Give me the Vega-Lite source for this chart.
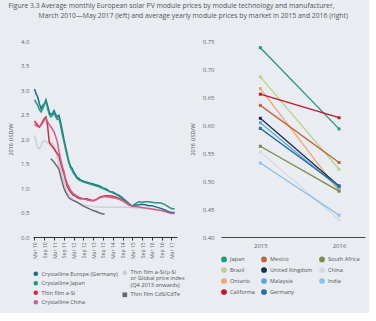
{
  "$schema": "https://vega.github.io/schema/vega-lite/v6.json",
  "background": "#e9ecf1",
  "padding": {"left": 8, "top": 3, "right": 4, "bottom": 4},
  "title": {
    "text": ["Figure 3.3   Average monthly European solar PV module prices by module technology and manufacturer,", "\u200b\u00a0\u00a0\u00a0\u00a0\u00a0\u00a0\u00a0\u00a0\u00a0\u00a0\u00a0\u00a0\u00a0\u00a0\u00a0\u00a0\u00a0March 2010\u2014May 2017 (left) and average yearly module prices by market in 2015 and 2016 (right)"],
    "anchor": "start",
    "fontSize": 6.8,
    "fontWeight": "normal",
    "color": "#555555",
    "lineHeight": 10,
    "offset": 18
  },
  "config": {
    "font": "Open Sans",
    "view": {"stroke": null},
    "axis": {"grid": false, "labelFontSize": 6, "labelColor": "#666666", "titleFontSize": 5.5, "titleColor": "#555555", "titleFontWeight": "normal", "labelOverlap": false, "tickCount": 30},
    "legend": {"labelFontSize": 5.6, "labelColor": "#555555", "labelFont": "Open Sans"}
  },
  "datasets": {
    "leftA": [
      {"series": "Crystalline Europe (Germany)", "date": "2010-03", "price": 3.02},
      {"series": "Crystalline Europe (Germany)", "date": "2010-04", "price": 2.92},
      {"series": "Crystalline Europe (Germany)", "date": "2010-05", "price": 2.85},
      {"series": "Crystalline Europe (Germany)", "date": "2010-06", "price": 2.72},
      {"series": "Crystalline Europe (Germany)", "date": "2010-07", "price": 2.62},
      {"series": "Crystalline Europe (Germany)", "date": "2010-08", "price": 2.68},
      {"series": "Crystalline Europe (Germany)", "date": "2010-09", "price": 2.72},
      {"series": "Crystalline Europe (Germany)", "date": "2010-10", "price": 2.80},
      {"series": "Crystalline Europe (Germany)", "date": "2010-11", "price": 2.68},
      {"series": "Crystalline Europe (Germany)", "date": "2010-12", "price": 2.55},
      {"series": "Crystalline Europe (Germany)", "date": "2011-01", "price": 2.50},
      {"series": "Crystalline Europe (Germany)", "date": "2011-02", "price": 2.52},
      {"series": "Crystalline Europe (Germany)", "date": "2011-03", "price": 2.58},
      {"series": "Crystalline Europe (Germany)", "date": "2011-04", "price": 2.50},
      {"series": "Crystalline Europe (Germany)", "date": "2011-05", "price": 2.45},
      {"series": "Crystalline Europe (Germany)", "date": "2011-06", "price": 2.48},
      {"series": "Crystalline Europe (Germany)", "date": "2011-07", "price": 2.35},
      {"series": "Crystalline Europe (Germany)", "date": "2011-08", "price": 2.18},
      {"series": "Crystalline Europe (Germany)", "date": "2011-09", "price": 2.00},
      {"series": "Crystalline Europe (Germany)", "date": "2011-10", "price": 1.85},
      {"series": "Crystalline Europe (Germany)", "date": "2011-11", "price": 1.70},
      {"series": "Crystalline Europe (Germany)", "date": "2011-12", "price": 1.55},
      {"series": "Crystalline Europe (Germany)", "date": "2012-01", "price": 1.45},
      {"series": "Crystalline Europe (Germany)", "date": "2012-02", "price": 1.40},
      {"series": "Crystalline Europe (Germany)", "date": "2012-03", "price": 1.33},
      {"series": "Crystalline Europe (Germany)", "date": "2012-04", "price": 1.28},
      {"series": "Crystalline Europe (Germany)", "date": "2012-05", "price": 1.22},
      {"series": "Crystalline Europe (Germany)", "date": "2012-06", "price": 1.20},
      {"series": "Crystalline Europe (Germany)", "date": "2012-07", "price": 1.17},
      {"series": "Crystalline Europe (Germany)", "date": "2012-09", "price": 1.14},
      {"series": "Crystalline Europe (Germany)", "date": "2012-11", "price": 1.12},
      {"series": "Crystalline Europe (Germany)", "date": "2013-01", "price": 1.10},
      {"series": "Crystalline Europe (Germany)", "date": "2013-03", "price": 1.08},
      {"series": "Crystalline Europe (Germany)", "date": "2013-05", "price": 1.06},
      {"series": "Crystalline Europe (Germany)", "date": "2013-07", "price": 1.04},
      {"series": "Crystalline Europe (Germany)", "date": "2013-09", "price": 1.00},
      {"series": "Crystalline Europe (Germany)", "date": "2013-11", "price": 0.98},
      {"series": "Crystalline Europe (Germany)", "date": "2014-01", "price": 0.93},
      {"series": "Crystalline Europe (Germany)", "date": "2014-03", "price": 0.92},
      {"series": "Crystalline Europe (Germany)", "date": "2014-05", "price": 0.88},
      {"series": "Crystalline Europe (Germany)", "date": "2014-07", "price": 0.85},
      {"series": "Crystalline Europe (Germany)", "date": "2014-09", "price": 0.80},
      {"series": "Crystalline Europe (Germany)", "date": "2014-11", "price": 0.74},
      {"series": "Crystalline Europe (Germany)", "date": "2015-01", "price": 0.68},
      {"series": "Crystalline Europe (Germany)", "date": "2015-03", "price": 0.63},
      {"series": "Crystalline Europe (Germany)", "date": "2015-05", "price": 0.65},
      {"series": "Crystalline Europe (Germany)", "date": "2015-07", "price": 0.66},
      {"series": "Crystalline Europe (Germany)", "date": "2015-09", "price": 0.67},
      {"series": "Crystalline Europe (Germany)", "date": "2015-11", "price": 0.66},
      {"series": "Crystalline Europe (Germany)", "date": "2016-01", "price": 0.64},
      {"series": "Crystalline Europe (Germany)", "date": "2016-03", "price": 0.64},
      {"series": "Crystalline Europe (Germany)", "date": "2016-05", "price": 0.62},
      {"series": "Crystalline Europe (Germany)", "date": "2016-07", "price": 0.60},
      {"series": "Crystalline Europe (Germany)", "date": "2016-09", "price": 0.58},
      {"series": "Crystalline Europe (Germany)", "date": "2016-11", "price": 0.55},
      {"series": "Crystalline Europe (Germany)", "date": "2017-01", "price": 0.52},
      {"series": "Crystalline Europe (Germany)", "date": "2017-03", "price": 0.50},
      {"series": "Crystalline Europe (Germany)", "date": "2017-05", "price": 0.50},
      {"series": "Crystalline Japan", "date": "2010-03", "price": 2.80},
      {"series": "Crystalline Japan", "date": "2010-04", "price": 2.74},
      {"series": "Crystalline Japan", "date": "2010-05", "price": 2.68},
      {"series": "Crystalline Japan", "date": "2010-06", "price": 2.60},
      {"series": "Crystalline Japan", "date": "2010-07", "price": 2.55},
      {"series": "Crystalline Japan", "date": "2010-08", "price": 2.62},
      {"series": "Crystalline Japan", "date": "2010-09", "price": 2.70},
      {"series": "Crystalline Japan", "date": "2010-10", "price": 2.78},
      {"series": "Crystalline Japan", "date": "2010-11", "price": 2.62},
      {"series": "Crystalline Japan", "date": "2010-12", "price": 2.50},
      {"series": "Crystalline Japan", "date": "2011-01", "price": 2.45},
      {"series": "Crystalline Japan", "date": "2011-02", "price": 2.48},
      {"series": "Crystalline Japan", "date": "2011-03", "price": 2.55},
      {"series": "Crystalline Japan", "date": "2011-04", "price": 2.45},
      {"series": "Crystalline Japan", "date": "2011-05", "price": 2.40},
      {"series": "Crystalline Japan", "date": "2011-06", "price": 2.42},
      {"series": "Crystalline Japan", "date": "2011-07", "price": 2.28},
      {"series": "Crystalline Japan", "date": "2011-08", "price": 2.10},
      {"series": "Crystalline Japan", "date": "2011-09", "price": 1.95},
      {"series": "Crystalline Japan", "date": "2011-10", "price": 1.80},
      {"series": "Crystalline Japan", "date": "2011-11", "price": 1.65},
      {"series": "Crystalline Japan", "date": "2011-12", "price": 1.52},
      {"series": "Crystalline Japan", "date": "2012-01", "price": 1.42},
      {"series": "Crystalline Japan", "date": "2012-02", "price": 1.36},
      {"series": "Crystalline Japan", "date": "2012-03", "price": 1.30},
      {"series": "Crystalline Japan", "date": "2012-04", "price": 1.25},
      {"series": "Crystalline Japan", "date": "2012-05", "price": 1.20},
      {"series": "Crystalline Japan", "date": "2012-06", "price": 1.17},
      {"series": "Crystalline Japan", "date": "2012-07", "price": 1.15},
      {"series": "Crystalline Japan", "date": "2012-09", "price": 1.12},
      {"series": "Crystalline Japan", "date": "2012-11", "price": 1.10},
      {"series": "Crystalline Japan", "date": "2013-01", "price": 1.08},
      {"series": "Crystalline Japan", "date": "2013-03", "price": 1.06},
      {"series": "Crystalline Japan", "date": "2013-05", "price": 1.04},
      {"series": "Crystalline Japan", "date": "2013-07", "price": 1.02},
      {"series": "Crystalline Japan", "date": "2013-09", "price": 0.99},
      {"series": "Crystalline Japan", "date": "2013-11", "price": 0.96},
      {"series": "Crystalline Japan", "date": "2014-01", "price": 0.93},
      {"series": "Crystalline Japan", "date": "2014-03", "price": 0.90},
      {"series": "Crystalline Japan", "date": "2014-05", "price": 0.87},
      {"series": "Crystalline Japan", "date": "2014-07", "price": 0.83},
      {"series": "Crystalline Japan", "date": "2014-09", "price": 0.78},
      {"series": "Crystalline Japan", "date": "2014-11", "price": 0.72},
      {"series": "Crystalline Japan", "date": "2015-01", "price": 0.66},
      {"series": "Crystalline Japan", "date": "2015-03", "price": 0.63},
      {"series": "Crystalline Japan", "date": "2015-05", "price": 0.68},
      {"series": "Crystalline Japan", "date": "2015-07", "price": 0.72},
      {"series": "Crystalline Japan", "date": "2015-09", "price": 0.71},
      {"series": "Crystalline Japan", "date": "2015-11", "price": 0.72},
      {"series": "Crystalline Japan", "date": "2016-01", "price": 0.72},
      {"series": "Crystalline Japan", "date": "2016-03", "price": 0.71},
      {"series": "Crystalline Japan", "date": "2016-05", "price": 0.70},
      {"series": "Crystalline Japan", "date": "2016-07", "price": 0.70},
      {"series": "Crystalline Japan", "date": "2016-09", "price": 0.69},
      {"series": "Crystalline Japan", "date": "2016-11", "price": 0.66},
      {"series": "Crystalline Japan", "date": "2017-01", "price": 0.62},
      {"series": "Crystalline Japan", "date": "2017-03", "price": 0.58},
      {"series": "Crystalline Japan", "date": "2017-05", "price": 0.57},
      {"series": "Thin film a-Si", "date": "2010-03", "price": 2.37},
      {"series": "Thin film a-Si", "date": "2010-04", "price": 2.32},
      {"series": "Thin film a-Si", "date": "2010-05", "price": 2.28},
      {"series": "Thin film a-Si", "date": "2010-06", "price": 2.24},
      {"series": "Thin film a-Si", "date": "2010-07", "price": 2.30},
      {"series": "Thin film a-Si", "date": "2010-08", "price": 2.36},
      {"series": "Thin film a-Si", "date": "2010-09", "price": 2.42},
      {"series": "Thin film a-Si", "date": "2010-10", "price": 2.45},
      {"series": "Thin film a-Si", "date": "2010-11", "price": 2.27},
      {"series": "Thin film a-Si", "date": "2010-12", "price": 1.94},
      {"series": "Thin film a-Si", "date": "2011-01", "price": 1.88},
      {"series": "Thin film a-Si", "date": "2011-02", "price": 1.84},
      {"series": "Thin film a-Si", "date": "2011-03", "price": 1.80},
      {"series": "Thin film a-Si", "date": "2011-04", "price": 1.75},
      {"series": "Thin film a-Si", "date": "2011-05", "price": 1.70},
      {"series": "Thin film a-Si", "date": "2011-06", "price": 1.65},
      {"series": "Thin film a-Si", "date": "2011-07", "price": 1.52},
      {"series": "Thin film a-Si", "date": "2011-08", "price": 1.40},
      {"series": "Thin film a-Si", "date": "2011-09", "price": 1.30},
      {"series": "Thin film a-Si", "date": "2011-10", "price": 1.16},
      {"series": "Thin film a-Si", "date": "2011-11", "price": 1.04},
      {"series": "Thin film a-Si", "date": "2011-12", "price": 0.97},
      {"series": "Thin film a-Si", "date": "2012-01", "price": 0.92},
      {"series": "Thin film a-Si", "date": "2012-02", "price": 0.88},
      {"series": "Thin film a-Si", "date": "2012-03", "price": 0.85},
      {"series": "Thin film a-Si", "date": "2012-04", "price": 0.84},
      {"series": "Thin film a-Si", "date": "2012-05", "price": 0.81},
      {"series": "Thin film a-Si", "date": "2012-07", "price": 0.78},
      {"series": "Thin film a-Si", "date": "2012-09", "price": 0.78},
      {"series": "Thin film a-Si", "date": "2012-11", "price": 0.78},
      {"series": "Thin film a-Si", "date": "2013-01", "price": 0.76},
      {"series": "Thin film a-Si", "date": "2013-03", "price": 0.74},
      {"series": "Thin film a-Si", "date": "2013-05", "price": 0.77},
      {"series": "Thin film a-Si", "date": "2013-07", "price": 0.81},
      {"series": "Thin film a-Si", "date": "2013-09", "price": 0.83},
      {"series": "Thin film a-Si", "date": "2013-11", "price": 0.84},
      {"series": "Thin film a-Si", "date": "2014-01", "price": 0.84},
      {"series": "Thin film a-Si", "date": "2014-03", "price": 0.83},
      {"series": "Thin film a-Si", "date": "2014-05", "price": 0.81},
      {"series": "Thin film a-Si", "date": "2014-07", "price": 0.78},
      {"series": "Thin film a-Si", "date": "2014-09", "price": 0.75},
      {"series": "Thin film a-Si", "date": "2014-11", "price": 0.70},
      {"series": "Thin film a-Si", "date": "2015-01", "price": 0.65},
      {"series": "Crystalline China", "date": "2010-03", "price": 2.30},
      {"series": "Crystalline China", "date": "2010-05", "price": 2.25},
      {"series": "Crystalline China", "date": "2010-07", "price": 2.28},
      {"series": "Crystalline China", "date": "2010-09", "price": 2.38},
      {"series": "Crystalline China", "date": "2010-10", "price": 2.42},
      {"series": "Crystalline China", "date": "2010-11", "price": 2.35},
      {"series": "Crystalline China", "date": "2010-12", "price": 2.30},
      {"series": "Crystalline China", "date": "2011-01", "price": 2.25},
      {"series": "Crystalline China", "date": "2011-03", "price": 2.15},
      {"series": "Crystalline China", "date": "2011-05", "price": 1.95},
      {"series": "Crystalline China", "date": "2011-06", "price": 1.75},
      {"series": "Crystalline China", "date": "2011-07", "price": 1.60},
      {"series": "Crystalline China", "date": "2011-08", "price": 1.45},
      {"series": "Crystalline China", "date": "2011-09", "price": 1.35},
      {"series": "Crystalline China", "date": "2011-10", "price": 1.20},
      {"series": "Crystalline China", "date": "2011-11", "price": 1.10},
      {"series": "Crystalline China", "date": "2012-01", "price": 0.96},
      {"series": "Crystalline China", "date": "2012-03", "price": 0.88},
      {"series": "Crystalline China", "date": "2012-05", "price": 0.84},
      {"series": "Crystalline China", "date": "2012-07", "price": 0.80},
      {"series": "Crystalline China", "date": "2012-09", "price": 0.78},
      {"series": "Crystalline China", "date": "2012-11", "price": 0.76},
      {"series": "Crystalline China", "date": "2013-01", "price": 0.74},
      {"series": "Crystalline China", "date": "2013-03", "price": 0.74},
      {"series": "Crystalline China", "date": "2013-05", "price": 0.76},
      {"series": "Crystalline China", "date": "2013-07", "price": 0.80},
      {"series": "Crystalline China", "date": "2013-09", "price": 0.82},
      {"series": "Crystalline China", "date": "2013-11", "price": 0.82},
      {"series": "Crystalline China", "date": "2014-01", "price": 0.81},
      {"series": "Crystalline China", "date": "2014-03", "price": 0.80},
      {"series": "Crystalline China", "date": "2014-05", "price": 0.79},
      {"series": "Crystalline China", "date": "2014-07", "price": 0.77},
      {"series": "Crystalline China", "date": "2014-09", "price": 0.74},
      {"series": "Crystalline China", "date": "2014-11", "price": 0.70},
      {"series": "Crystalline China", "date": "2015-01", "price": 0.66},
      {"series": "Crystalline China", "date": "2015-03", "price": 0.62},
      {"series": "Crystalline China", "date": "2015-05", "price": 0.62},
      {"series": "Crystalline China", "date": "2015-07", "price": 0.61},
      {"series": "Crystalline China", "date": "2015-09", "price": 0.60},
      {"series": "Crystalline China", "date": "2015-11", "price": 0.59},
      {"series": "Crystalline China", "date": "2016-01", "price": 0.58},
      {"series": "Crystalline China", "date": "2016-03", "price": 0.57},
      {"series": "Crystalline China", "date": "2016-05", "price": 0.56},
      {"series": "Crystalline China", "date": "2016-07", "price": 0.55},
      {"series": "Crystalline China", "date": "2016-09", "price": 0.54},
      {"series": "Crystalline China", "date": "2016-11", "price": 0.52},
      {"series": "Crystalline China", "date": "2017-01", "price": 0.50},
      {"series": "Crystalline China", "date": "2017-03", "price": 0.48},
      {"series": "Crystalline China", "date": "2017-05", "price": 0.48}
    ],
    "leftB": [
      {"series": "Thin film a-Si/\u03bc-Si or Global price index (Q4 2013 onwards)", "date": "2010-03", "price": 2.06},
      {"series": "Thin film a-Si/\u03bc-Si or Global price index (Q4 2013 onwards)", "date": "2010-04", "price": 1.95},
      {"series": "Thin film a-Si/\u03bc-Si or Global price index (Q4 2013 onwards)", "date": "2010-05", "price": 1.82},
      {"series": "Thin film a-Si/\u03bc-Si or Global price index (Q4 2013 onwards)", "date": "2010-06", "price": 1.80},
      {"series": "Thin film a-Si/\u03bc-Si or Global price index (Q4 2013 onwards)", "date": "2010-07", "price": 1.86},
      {"series": "Thin film a-Si/\u03bc-Si or Global price index (Q4 2013 onwards)", "date": "2010-08", "price": 1.95},
      {"series": "Thin film a-Si/\u03bc-Si or Global price index (Q4 2013 onwards)", "date": "2010-09", "price": 1.96},
      {"series": "Thin film a-Si/\u03bc-Si or Global price index (Q4 2013 onwards)", "date": "2010-10", "price": 1.94},
      {"series": "Thin film a-Si/\u03bc-Si or Global price index (Q4 2013 onwards)", "date": "2010-11", "price": 1.92},
      {"series": "Thin film a-Si/\u03bc-Si or Global price index (Q4 2013 onwards)", "date": "2010-12", "price": 1.90},
      {"series": "Thin film a-Si/\u03bc-Si or Global price index (Q4 2013 onwards)", "date": "2011-01", "price": 1.88},
      {"series": "Thin film a-Si/\u03bc-Si or Global price index (Q4 2013 onwards)", "date": "2011-02", "price": 1.92},
      {"series": "Thin film a-Si/\u03bc-Si or Global price index (Q4 2013 onwards)", "date": "2011-03", "price": 1.85},
      {"series": "Thin film a-Si/\u03bc-Si or Global price index (Q4 2013 onwards)", "date": "2011-04", "price": 1.75},
      {"series": "Thin film a-Si/\u03bc-Si or Global price index (Q4 2013 onwards)", "date": "2011-05", "price": 1.62},
      {"series": "Thin film a-Si/\u03bc-Si or Global price index (Q4 2013 onwards)", "date": "2011-06", "price": 1.50},
      {"series": "Thin film a-Si/\u03bc-Si or Global price index (Q4 2013 onwards)", "date": "2011-07", "price": 1.38},
      {"series": "Thin film a-Si/\u03bc-Si or Global price index (Q4 2013 onwards)", "date": "2011-08", "price": 1.25},
      {"series": "Thin film a-Si/\u03bc-Si or Global price index (Q4 2013 onwards)", "date": "2011-09", "price": 1.12},
      {"series": "Thin film a-Si/\u03bc-Si or Global price index (Q4 2013 onwards)", "date": "2011-10", "price": 1.00},
      {"series": "Thin film a-Si/\u03bc-Si or Global price index (Q4 2013 onwards)", "date": "2011-11", "price": 0.90},
      {"series": "Thin film a-Si/\u03bc-Si or Global price index (Q4 2013 onwards)", "date": "2012-01", "price": 0.82},
      {"series": "Thin film a-Si/\u03bc-Si or Global price index (Q4 2013 onwards)", "date": "2012-03", "price": 0.76},
      {"series": "Thin film a-Si/\u03bc-Si or Global price index (Q4 2013 onwards)", "date": "2012-05", "price": 0.72},
      {"series": "Thin film a-Si/\u03bc-Si or Global price index (Q4 2013 onwards)", "date": "2012-07", "price": 0.68},
      {"series": "Thin film a-Si/\u03bc-Si or Global price index (Q4 2013 onwards)", "date": "2012-09", "price": 0.65},
      {"series": "Thin film a-Si/\u03bc-Si or Global price index (Q4 2013 onwards)", "date": "2012-11", "price": 0.64},
      {"series": "Thin film a-Si/\u03bc-Si or Global price index (Q4 2013 onwards)", "date": "2013-01", "price": 0.63},
      {"series": "Thin film a-Si/\u03bc-Si or Global price index (Q4 2013 onwards)", "date": "2013-03", "price": 0.62},
      {"series": "Thin film a-Si/\u03bc-Si or Global price index (Q4 2013 onwards)", "date": "2013-07", "price": 0.61},
      {"series": "Thin film a-Si/\u03bc-Si or Global price index (Q4 2013 onwards)", "date": "2013-11", "price": 0.61},
      {"series": "Thin film a-Si/\u03bc-Si or Global price index (Q4 2013 onwards)", "date": "2014-03", "price": 0.61},
      {"series": "Thin film a-Si/\u03bc-Si or Global price index (Q4 2013 onwards)", "date": "2014-07", "price": 0.61},
      {"series": "Thin film a-Si/\u03bc-Si or Global price index (Q4 2013 onwards)", "date": "2014-11", "price": 0.61},
      {"series": "Thin film a-Si/\u03bc-Si or Global price index (Q4 2013 onwards)", "date": "2015-03", "price": 0.60},
      {"series": "Thin film a-Si/\u03bc-Si or Global price index (Q4 2013 onwards)", "date": "2015-07", "price": 0.59},
      {"series": "Thin film a-Si/\u03bc-Si or Global price index (Q4 2013 onwards)", "date": "2015-11", "price": 0.58},
      {"series": "Thin film a-Si/\u03bc-Si or Global price index (Q4 2013 onwards)", "date": "2016-03", "price": 0.57},
      {"series": "Thin film a-Si/\u03bc-Si or Global price index (Q4 2013 onwards)", "date": "2016-07", "price": 0.55},
      {"series": "Thin film a-Si/\u03bc-Si or Global price index (Q4 2013 onwards)", "date": "2016-11", "price": 0.52},
      {"series": "Thin film a-Si/\u03bc-Si or Global price index (Q4 2013 onwards)", "date": "2017-03", "price": 0.49},
      {"series": "Thin film a-Si/\u03bc-Si or Global price index (Q4 2013 onwards)", "date": "2017-05", "price": 0.48},
      {"series": "Thin film CdS/CdTe", "date": "2011-01", "price": 1.60},
      {"series": "Thin film CdS/CdTe", "date": "2011-02", "price": 1.56},
      {"series": "Thin film CdS/CdTe", "date": "2011-03", "price": 1.53},
      {"series": "Thin film CdS/CdTe", "date": "2011-04", "price": 1.48},
      {"series": "Thin film CdS/CdTe", "date": "2011-05", "price": 1.44},
      {"series": "Thin film CdS/CdTe", "date": "2011-06", "price": 1.38},
      {"series": "Thin film CdS/CdTe", "date": "2011-07", "price": 1.25},
      {"series": "Thin film CdS/CdTe", "date": "2011-08", "price": 1.12},
      {"series": "Thin film CdS/CdTe", "date": "2011-09", "price": 1.00},
      {"series": "Thin film CdS/CdTe", "date": "2011-10", "price": 0.92},
      {"series": "Thin film CdS/CdTe", "date": "2011-11", "price": 0.86},
      {"series": "Thin film CdS/CdTe", "date": "2011-12", "price": 0.80},
      {"series": "Thin film CdS/CdTe", "date": "2012-01", "price": 0.78},
      {"series": "Thin film CdS/CdTe", "date": "2012-03", "price": 0.74},
      {"series": "Thin film CdS/CdTe", "date": "2012-05", "price": 0.71},
      {"series": "Thin film CdS/CdTe", "date": "2012-07", "price": 0.67},
      {"series": "Thin film CdS/CdTe", "date": "2012-09", "price": 0.63},
      {"series": "Thin film CdS/CdTe", "date": "2012-11", "price": 0.60},
      {"series": "Thin film CdS/CdTe", "date": "2013-01", "price": 0.57},
      {"series": "Thin film CdS/CdTe", "date": "2013-03", "price": 0.54},
      {"series": "Thin film CdS/CdTe", "date": "2013-05", "price": 0.52},
      {"series": "Thin film CdS/CdTe", "date": "2013-07", "price": 0.49},
      {"series": "Thin film CdS/CdTe", "date": "2013-09", "price": 0.47},
      {"series": "Thin film CdS/CdTe", "date": "2013-10", "price": 0.47}
    ],
    "right": [
      {"market": "Japan", "year": 2015, "price": 0.738},
      {"market": "Japan", "year": 2016, "price": 0.593},
      {"market": "Brazil", "year": 2015, "price": 0.686},
      {"market": "Brazil", "year": 2016, "price": 0.521},
      {"market": "Ontario", "year": 2015, "price": 0.665},
      {"market": "Ontario", "year": 2016, "price": 0.482},
      {"market": "Mexico", "year": 2015, "price": 0.635},
      {"market": "Mexico", "year": 2016, "price": 0.533},
      {"market": "United Kingdom", "year": 2015, "price": 0.612},
      {"market": "United Kingdom", "year": 2016, "price": 0.491},
      {"market": "Malaysia", "year": 2015, "price": 0.604},
      {"market": "Malaysia", "year": 2016, "price": 0.488},
      {"market": "Germany", "year": 2015, "price": 0.594},
      {"market": "Germany", "year": 2016, "price": 0.491},
      {"market": "South Africa", "year": 2015, "price": 0.562},
      {"market": "South Africa", "year": 2016, "price": 0.482},
      {"market": "China", "year": 2015, "price": 0.552},
      {"market": "China", "year": 2016, "price": 0.431},
      {"market": "India", "year": 2015, "price": 0.532},
      {"market": "India", "year": 2016, "price": 0.439},
      {"market": "California", "year": 2015, "price": 0.655},
      {"market": "California", "year": 2016, "price": 0.613}
    ]
  },
  "resolve": {"scale": {"color": "independent", "stroke": "independent"}, "legend": {"color": "independent", "stroke": "independent"}},
  "spacing": 5,
  "hconcat": [
    {
      "width": 144,
      "height": 196,
      "layer": [
        {
          "data": {"name": "leftB"},
          "mark": {"type": "line", "strokeWidth": 1.4},
          "encoding": {
            "x": {"field": "date", "type": "temporal", "scale": {"type": "utc", "domain": [{"year": 2010, "month": 2, "date": 1, "utc": true}, {"year": 2017, "month": 6, "date": 15, "utc": true}]},
              "axis": {"title": null, "format": "%b %y", "labelAngle": -90, "labelFontSize": 5, "tickSize": 3, "tickColor": "#333333", "domainColor": "#333333", "labelPadding": 2, "tickCount": 30, "labelOverlap": false,
                "values": [{"year": 2010, "month": 3, "date": 1, "utc": true}, {"year": 2010, "month": 9, "date": 1, "utc": true}, {"year": 2011, "month": 3, "date": 1, "utc": true}, {"year": 2011, "month": 9, "date": 1, "utc": true}, {"year": 2012, "month": 3, "date": 1, "utc": true}, {"year": 2012, "month": 9, "date": 1, "utc": true}, {"year": 2013, "month": 3, "date": 1, "utc": true}, {"year": 2013, "month": 9, "date": 1, "utc": true}, {"year": 2014, "month": 3, "date": 1, "utc": true}, {"year": 2014, "month": 9, "date": 1, "utc": true}, {"year": 2015, "month": 3, "date": 1, "utc": true}, {"year": 2015, "month": 9, "date": 1, "utc": true}, {"year": 2016, "month": 3, "date": 1, "utc": true}, {"year": 2016, "month": 9, "date": 1, "utc": true}, {"year": 2017, "month": 3, "date": 1, "utc": true}]}},
            "y": {"field": "price", "type": "quantitative", "scale": {"domain": [0, 4]},
              "axis": {"title": "2016 USD/W", "values": [0, 0.5, 1, 1.5, 2, 2.5, 3, 3.5, 4], "format": ".1f", "domain": false, "ticks": false, "labelPadding": 4, "titlePadding": 7, "tickCount": 30, "labelOverlap": false}},
            "stroke": {"field": "series", "type": "nominal",
              "scale": {"domain": ["Thin film a-Si/\u03bc-Si or Global price index (Q4 2013 onwards)", "Thin film CdS/CdTe"], "range": ["#c9cdd4", "#64686d"]},
              "legend": {"title": null, "orient": "none", "legendX": 89, "legendY": 229, "direction": "vertical", "symbolType": "circle", "symbolSize": 5, "symbolStrokeWidth": 2.4, "labelOffset": 3, "rowPadding": -1, "labelBaseline": "top",
                "labelExpr": "datum.label == 'Thin film CdS/CdTe' ? datum.label : ['Thin film a-Si/\u03bc-Si', 'or Global price index', '(Q4 2013 onwards)']",
                "encode": {"labels": {"update": {"dy": {"value": -3}, "lineHeight": {"value": 6.6}}}, "symbols": {"update": {"shape": {"signal": "datum.value == 'Thin film CdS/CdTe' ? 'square' : 'circle'"}}}}}
            }
          }
        },
        {
          "data": {"name": "leftA"},
          "mark": {"type": "line", "strokeWidth": 1.5},
          "encoding": {
            "x": {"field": "date", "type": "temporal"},
            "y": {"field": "price", "type": "quantitative"},
            "color": {"field": "series", "type": "nominal",
              "scale": {"domain": ["Crystalline Europe (Germany)", "Crystalline Japan", "Thin film a-Si", "Crystalline China"], "range": ["#1d6f8c", "#1e9b7e", "#d42a3c", "#cf5f8d"]},
              "legend": {"title": null, "orient": "none", "legendX": 0, "legendY": 230, "direction": "vertical", "symbolType": "circle", "symbolSize": 5, "symbolStrokeWidth": 2.4, "labelOffset": 3, "rowPadding": -3.5}
            }
          }
        }
      ]
    },
    {
      "width": 144,
      "height": 196,
      "data": {"name": "right"},
      "layer": [
        {
          "mark": {"type": "line", "strokeWidth": 1.3},
          "encoding": {
            "x": {"field": "year", "type": "quantitative", "scale": {"domain": [2014.5, 2016.33], "nice": false, "zero": false},
              "axis": {"title": null, "values": [2015, 2016], "format": "d", "ticks": false, "domainColor": "#444444", "labelPadding": 5}},
            "y": {"field": "price", "type": "quantitative", "scale": {"domain": [0.4, 0.75], "nice": false, "zero": false},
              "axis": {"title": "2016 USD/W", "values": [0.4, 0.45, 0.5, 0.55, 0.6, 0.65, 0.7, 0.75], "format": ".2f", "domain": false, "ticks": false, "labelPadding": 7, "titlePadding": 7, "tickCount": 30, "labelOverlap": false}},
            "color": {"field": "market", "type": "nominal",
              "scale": {"domain": ["Japan", "Brazil", "Ontario", "California", "Mexico", "United Kingdom", "Malaysia", "Germany", "South Africa", "China", "India"],
                "range": ["#1f9a7c", "#b9d48c", "#f2a46e", "#c8102e", "#b8683a", "#1c2b4a", "#5aa7d9", "#246f9e", "#7d8b45", "#d5dae6", "#8ec0e8"]},
              "legend": {"title": null, "orient": "bottom", "columns": 3, "direction": "vertical", "symbolType": "circle", "symbolSize": 18, "labelOffset": 3, "rowPadding": -1, "columnPadding": 3, "offset": 8}
            },
            "detail": {"field": "market"}
          }
        },
        {
          "mark": {"type": "point", "shape": "square", "filled": true, "size": 9, "opacity": 1},
          "encoding": {
            "x": {"field": "year", "type": "quantitative"},
            "y": {"field": "price", "type": "quantitative"},
            "color": {"field": "market", "type": "nominal"}
          }
        }
      ]
    }
  ]
}
